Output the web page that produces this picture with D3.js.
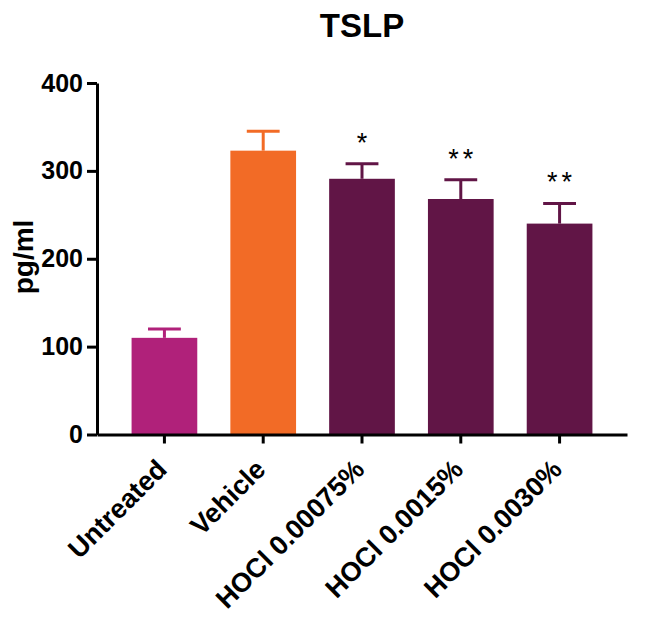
<!DOCTYPE html>
<html>
<head>
<meta charset="utf-8">
<script src="https://cdn.jsdelivr.net/npm/d3@7"></script>
<style>
  body { margin: 0; background: #fff; }
  text { font-family: "Liberation Sans", Arial, sans-serif; font-weight: bold; }
</style>
</head>
<body>
<div id="chart"></div>
<script>
// data
var categories = ["Untreated", "Vehicle", "HOCl 0.00075%", "HOCl 0.0015%", "HOCl 0.0030%"];
var means = [110, 323, 291, 268, 240];
var sems = [10, 22, 17, 22, 23];
var stars = ["", "", "*", "**", "**"];
var barColors = ["#b0217a", "#f26b26", "#611546", "#611546", "#611546"];
var yTicks = [0, 100, 200, 300, 400];

var width = 648, height = 618;

var svg = d3.select("#chart").append("svg")
    .attr("width", width)
    .attr("height", height);

var x = d3.scaleBand()
    .domain(categories)
    .range([97, 627])
    .paddingInner(0.335)
    .paddingOuter(0.35);

var y = d3.scaleLinear()
    .domain([0, 400])
    .range([434.5, 83]);

var rows = categories.map(function(c, i) {
    return { name: c, mean: means[i], sem: sems[i], star: stars[i], color: barColors[i] };
});

// bars
svg.append("g")
    .selectAll("rect")
    .data(rows)
    .enter()
    .append("rect")
    .attr("x", function(d) { return x(d.name); })
    .attr("y", function(d) { return y(d.mean); })
    .attr("width", x.bandwidth())
    .attr("height", function(d) { return y(0) - y(d.mean); })
    .attr("fill", function(d) { return d.color; });

// error bars (upper only)
var err = svg.append("g")
    .selectAll("g")
    .data(rows)
    .enter()
    .append("g")
    .attr("stroke", function(d) { return d.color; })
    .attr("stroke-width", 3);

err.append("line")
    .attr("x1", function(d) { return x(d.name) + x.bandwidth() / 2; })
    .attr("x2", function(d) { return x(d.name) + x.bandwidth() / 2; })
    .attr("y1", function(d) { return y(d.mean); })
    .attr("y2", function(d) { return y(d.mean + d.sem); });

err.append("line")
    .attr("x1", function(d) { return x(d.name) + x.bandwidth() / 4; })
    .attr("x2", function(d) { return x(d.name) + x.bandwidth() * 3 / 4; })
    .attr("y1", function(d) { return y(d.mean + d.sem); })
    .attr("y2", function(d) { return y(d.mean + d.sem); });

// significance stars
svg.append("g")
    .selectAll("text")
    .data(rows.filter(function(d) { return d.star; }))
    .enter()
    .append("text")
    .attr("x", function(d) { return x(d.name) + x.bandwidth() / 2 + 2; })
    .attr("y", function(d) { return y(d.mean + d.sem) - 12; })
    .attr("text-anchor", "middle")
    .attr("font-size", 27)
    .style("font-weight", "normal")
    .style("letter-spacing", "4px")
    .text(function(d) { return d.star; });

// y axis
var yAxis = svg.append("g")
    .attr("transform", "translate(97,0)")
    .call(d3.axisLeft(y).tickValues(yTicks).tickSize(10).tickSizeOuter(0).tickPadding(4));

// x axis
var xAxis = svg.append("g")
    .attr("transform", "translate(0,434.5)")
    .call(d3.axisBottom(x).tickSize(9).tickSizeOuter(0).tickFormat(""));

svg.selectAll(".domain, .tick line")
    .attr("stroke", "#000")
    .attr("stroke-width", 3);

yAxis.selectAll("text")
    .attr("font-size", 25)
    .attr("fill", "#000")
    .attr("font-family", null);

// rotated category labels
svg.append("g")
    .selectAll("text")
    .data(categories)
    .enter()
    .append("text")
    .attr("transform", function(d) {
        return "translate(" + (x(d) + x.bandwidth() / 2 + 4) + ",471) rotate(-45)";
    })
    .attr("text-anchor", "end")
    .attr("font-size", 27)
    .text(function(d) { return d; });

// y label
svg.append("text")
    .attr("transform", "translate(33,257) rotate(-90)")
    .attr("text-anchor", "middle")
    .attr("font-size", 28)
    .text("pg/ml");

// title
svg.append("text")
    .attr("x", 362)
    .attr("y", 37)
    .attr("text-anchor", "middle")
    .attr("font-size", 33)
    .text("TSLP");
</script>
</body>
</html>
